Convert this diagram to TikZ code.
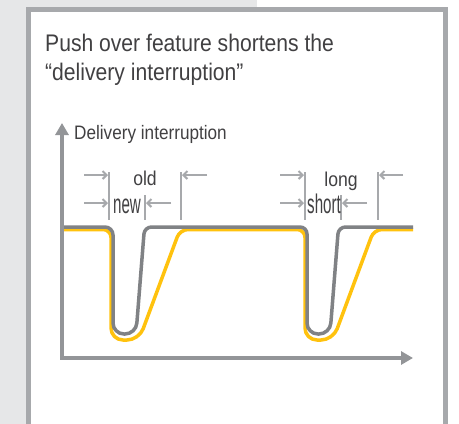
\documentclass[tikz,border=0pt]{standalone}
\usepackage{fontspec}
\setmainfont{Liberation Sans}[FakeStretch=0.88]
\newfontfamily\narrowfont{Liberation Sans}[FakeStretch=0.56]
\usetikzlibrary{arrows.meta}

\definecolor{panelgray}{HTML}{E6E7E8}
\definecolor{framegray}{HTML}{A7A9AC}
\definecolor{axisgray}{HTML}{939598}
\definecolor{curvegray}{HTML}{808285}
\definecolor{curveyellow}{HTML}{FFC20E}
\definecolor{textgray}{HTML}{414042}

\tikzset{
  axis/.style={draw=axisgray, line width=3.5pt,
    {Triangle[length=12pt,width=13pt]}-{Triangle[length=12pt,width=13pt]}},
  oldcurve/.style={draw=curveyellow, line width=3.5pt, rounded corners=8pt},
  newcurve/.style={draw=curvegray, line width=3.5pt, rounded corners=8pt},
  tick/.style={draw=framegray, line width=2pt},
  gap/.style={draw=framegray, line width=2pt, -{Straight Barb[length=4pt,width=8pt]}},
  title/.style={text=textgray, inner sep=0pt, anchor=base west, font=\fontsize{24}{29}\selectfont},
  marktext/.style={text=textgray, inner sep=0pt, anchor=base, font=\fontsize{20}{20}\selectfont},
  narrowtext/.style={marktext, font=\narrowfont\fontsize{27}{27}\selectfont},
}

\begin{document}
\begin{tikzpicture}[x=1pt, y=-1pt]
\useasboundingbox (0,0) rectangle (459,424);

\fill[panelgray] (0,0) rectangle (257,424);
\filldraw[fill=white, draw=framegray, line width=5pt] (28.5,9.3) rectangle (445.8,440);

\node[title] (title1) at (45,51) {Push over feature shortens the};
\node[title] (title2) at (45,80) {“delivery interruption”};

\coordinate (origin) at (62,358);
\coordinate (ytip) at (62,123);
\coordinate (xtip) at (413,358);
\node[marktext, anchor=base west, font=\fontsize{19.5}{20}\selectfont] (ylabel) at (74,139) {Delivery interruption};

% the two dips, bottoms rounded wider than the shoulders
\draw[oldcurve] (62,229.5) -- (111,229.5) [rounded corners=12pt] -- (111,340) -- (139,340)
  [rounded corners=8pt] -- (180,229.5) -- (305,229.5) [rounded corners=12pt] -- (305,340)
  -- (333,340) [rounded corners=8pt] -- (374,229.5) -- (413,229.5);
\draw[newcurve] (62,227) -- (113,227) [rounded corners=11pt] -- (113,334) -- (136,334)
  [rounded corners=7pt] -- (144.5,227) -- (307,227) [rounded corners=11pt] -- (307,334)
  -- (330,334) [rounded corners=7pt] -- (338.5,227) -- (413,227);

\draw[axis] (ytip) -- (origin) -- (xtip);

\coordinate (oldL) at (109,172);
\coordinate (oldM) at (145,195);
\coordinate (oldR) at (181,172);
\draw[tick] (oldL) -- (109,220);
\draw[tick] (oldM) -- (145,220);
\draw[tick] (oldR) -- (181,220);
\coordinate (oldA) at (84,175);
\coordinate (oldB) at (207,175);
\coordinate (newA) at (84,203);
\coordinate (newB) at (171,203);
\draw[gap] (oldA) -- (108,175);
\draw[gap] (oldB) -- (182,175);
\draw[gap] (newA) -- (108,203);
\draw[gap] (newB) -- (146,203);
\node[marktext] (old) at (145,185) {old};
\node[narrowtext] (new) at (127,213) {new};

\coordinate (longL) at (305,172);
\coordinate (longM) at (341,195);
\coordinate (longR) at (378,172);
\draw[tick] (longL) -- (305,220);
\draw[tick] (longM) -- (341,220);
\draw[tick] (longR) -- (378,220);
\coordinate (longA) at (280,175);
\coordinate (longB) at (403,175);
\coordinate (shortA) at (280,203);
\coordinate (shortB) at (367,203);
\draw[gap] (longA) -- (304,175);
\draw[gap] (longB) -- (379,175);
\draw[gap] (shortA) -- (304,203);
\draw[gap] (shortB) -- (342,203);
\node[marktext] (long) at (341,186) {long};
\node[narrowtext] (short) at (324,213) {short};

\end{tikzpicture}
\end{document}
